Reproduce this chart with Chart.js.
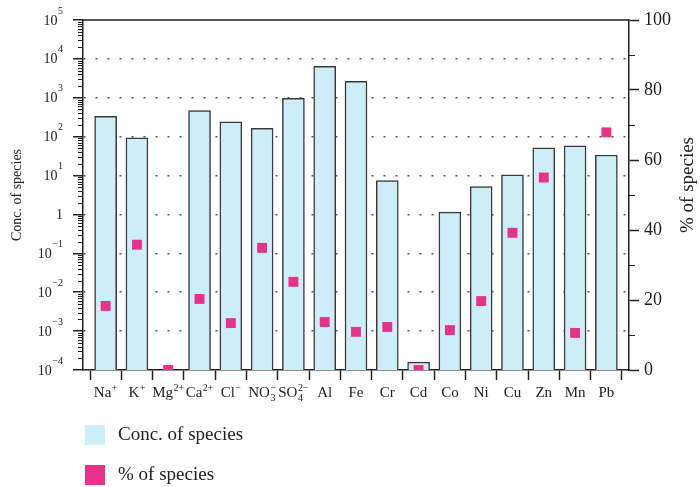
<!DOCTYPE html>
<html>
<head>
<meta charset="utf-8">
<script src="https://cdn.jsdelivr.net/npm/chart.js@4"></script>
<style>
  body { margin: 0; background: #fff; }
  #wrap { position: relative; width: 700px; height: 487px; }
  .item { position: absolute; left: 85px; font: 19px "Liberation Serif", "DejaVu Serif", serif; color: #222; }
  .item span.box { position: absolute; left: 0; top: 0; width: 20px; height: 20px; }
  .item span.txt { position: absolute; left: 33px; top: -2px; white-space: nowrap; }
</style>
</head>
<body>
<div id="wrap">
  <canvas id="chart" width="700" height="487"></canvas>
  <div class="item" style="top:425px"><span class="box" style="background:#cdeef6"></span><span class="txt">Conc. of species</span></div>
  <div class="item" style="top:465px"><span class="box" style="background:#e8318a"></span><span class="txt">% of species</span></div>
</div>
<script>
const categories = ['Na⁺', 'K⁺', 'Mg²⁺', 'Ca²⁺', 'Cl⁻', 'NO₃⁻', 'SO₄²⁻', 'Al', 'Fe', 'Cr', 'Cd', 'Co', 'Ni', 'Cu', 'Zn', 'Mn', 'Pb'];
const concValues = [334, 94, null, 468, 239, 164, 970, 6470, 2660, 7.4, 1.6e-4, 1.15, 5.2, 10.5, 52, 57.7, 33.8];
const pctValues = [18.3, 35.8, 0, 20.3, 13.4, 34.9, 25.2, 13.7, 10.9, 12.3, 0, 11.4, 19.7, 39.2, 55.0, 10.6, 67.9];
const decadeLabels = ['10⁻⁴', '10⁻³', '10⁻²', '10⁻¹', '1', '10¹', '10²', '10³', '10⁴', '10⁵'];

const serif = '"Liberation Serif", "DejaVu Serif", serif';
const ink = '#222';

const SUP = { '⁰': '0', '¹': '1', '²': '2', '³': '3', '⁴': '4', '⁵': '5', '⁶': '6', '⁷': '7', '⁸': '8', '⁹': '9', '⁺': '+', '⁻': '−' };
const SUB = { '₀': '0', '₁': '1', '₂': '2', '₃': '3', '₄': '4', '₅': '5', '₆': '6', '₇': '7', '₈': '8', '₉': '9' };

// draw a label with its sub/superscripts stacked after the base text
function drawRich(ctx, text, x, y, size, align, supRise, subDrop) {
    let base = '', sup = '', sub = '';
    for (const ch of text) {
        if (SUP[ch]) sup += SUP[ch];
        else if (SUB[ch]) sub += SUB[ch];
        else base += ch;
    }
    const small = Math.round(size * 0.68);
    ctx.font = size + 'px ' + serif;
    const wb = ctx.measureText(base).width;
    ctx.font = small + 'px ' + serif;
    const ws = Math.max(ctx.measureText(sup).width, ctx.measureText(sub).width);
    const w = wb + (ws ? ws + 0.5 : 0);
    const x0 = align === 'center' ? x - w / 2 : align === 'right' ? x - w : x;
    ctx.textAlign = 'left';
    ctx.textBaseline = 'alphabetic';
    ctx.font = size + 'px ' + serif;
    ctx.fillText(base, x0, y);
    ctx.font = small + 'px ' + serif;
    if (sup) ctx.fillText(sup, x0 + wb + 0.5, y - supRise);
    if (sub) ctx.fillText(sub, x0 + wb + 0.5, y + subDrop);
}

// minor ticks, top frame line, tick labels and the right axis title
const frame = {
    id: 'frame',
    afterDraw(chart) {
        const { ctx, chartArea: a, scales } = chart;
        ctx.save();
        ctx.strokeStyle = ink;
        ctx.lineWidth = 1;
        ctx.beginPath();
        for (let e = -4; e < 5; e++) {
            for (let k = 2; k < 10; k++) {
                const y = Math.round(scales.y.getPixelForValue(k * Math.pow(10, e))) + 0.5;
                ctx.moveTo(a.left - 5, y);
                ctx.lineTo(a.left, y);
            }
        }
        [10, 30, 50, 70, 90].forEach(v => {
            const y = Math.round(scales.y2.getPixelForValue(v)) + 0.5;
            ctx.moveTo(a.right, y);
            ctx.lineTo(a.right + 6, y);
        });
        ctx.stroke();
        ctx.lineWidth = 1.5;
        ctx.beginPath();
        ctx.moveTo(a.left, a.top);
        ctx.lineTo(a.right, a.top);
        ctx.stroke();

        ctx.fillStyle = ink;
        categories.forEach((c, i) => {
            drawRich(ctx, c, scales.x.getPixelForValue(i), a.bottom + 27, 15, 'center', 6, 4);
        });
        decadeLabels.forEach((l, i) => {
            const y = scales.y.getPixelForValue(Math.pow(10, i - 4));
            drawRich(ctx, l, 63, y + 4.5, 14, 'right', 11, 0);
        });

        ctx.translate(688, 185);
        ctx.rotate(-Math.PI / 2);
        ctx.font = '19px ' + serif;
        ctx.textAlign = 'center';
        ctx.textBaseline = 'middle';
        ctx.fillText('% of species', 0, 0);
        ctx.restore();
    }
};

const ctx = document.getElementById('chart').getContext('2d');
new Chart(ctx, {
    type: 'bar',
    data: {
        datasets: [{
            type: 'line',
            label: '% of species',
            data: pctValues.map((v, i) => ({ x: i, y: v })),
            yAxisID: 'y2',
            showLine: false,
            pointStyle: 'rect',
            pointRadius: 7,
            pointBorderWidth: 0,
            backgroundColor: '#e8318a',
            clip: 0,
            order: 0
        }, {
            label: 'Conc. of species',
            data: concValues.map((v, i) => ({ x: i, y: v })),
            yAxisID: 'y',
            backgroundColor: '#cdeef6',
            borderColor: '#3a3a3a',
            borderWidth: 1.5,
            barThickness: 22,
            order: 1
        }]
    },
    options: {
        responsive: false,
        animation: false,
        layout: { padding: { top: 20, bottom: 77, left: 0, right: 0 } },
        plugins: { legend: { display: false }, tooltip: { enabled: false } },
        scales: {
            x: {
                type: 'linear',
                offset: false,
                min: -0.7237,
                max: 16.7237,
                afterBuildTicks: s => {
                    const t = [];
                    for (let i = -0.5; i <= 16.5; i += 1) t.push({ value: i });
                    s.ticks = t;
                },
                afterFit: s => { s.height = 40; },
                ticks: { display: false },
                grid: {
                    offset: false,
                    drawOnChartArea: false,
                    tickLength: 10,
                    tickWidth: 1.5,
                    tickColor: ink
                },
                border: { color: ink, width: 1.5 }
            },
            y: {
                type: 'logarithmic',
                position: 'left',
                min: 1e-4,
                max: 1e5,
                afterBuildTicks: s => {
                    s.ticks = decadeLabels.map((l, i) => ({ value: Math.pow(10, i - 4), major: true }));
                },
                afterFit: s => { s.width = 83; },
                ticks: { display: false },
                grid: {
                    color: c => (c.tick && c.index > 0 && c.index < decadeLabels.length - 1) ? '#555' : 'rgba(0,0,0,0)',
                    lineWidth: 1.5,
                    tickLength: 10,
                    tickWidth: 1.5,
                    tickColor: ink,
                    tickBorderDash: [0, 0]
                },
                border: { color: ink, width: 1.5, dash: [2, 10] },
                title: {
                    display: true,
                    text: 'Conc. of species',
                    color: ink,
                    font: { family: serif, size: 14 },
                    padding: { top: 9, bottom: 0 }
                }
            },
            y2: {
                type: 'linear',
                position: 'right',
                min: 0,
                max: 100,
                afterFit: s => { s.width = 71; },
                ticks: {
                    stepSize: 20,
                    padding: 5,
                    color: ink,
                    font: { family: serif, size: 18 }
                },
                grid: {
                    drawOnChartArea: false,
                    tickLength: 10,
                    tickWidth: 1.5,
                    tickColor: ink
                },
                border: { color: ink, width: 1.5 }
            }
        }
    },
    plugins: [frame]
});
</script>
</body>
</html>
